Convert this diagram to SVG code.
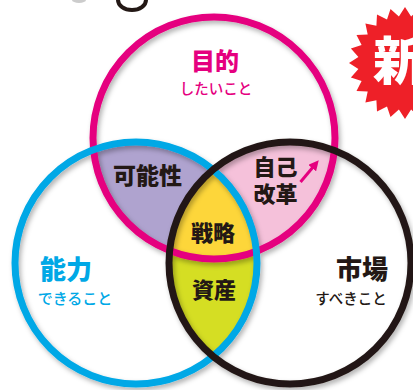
<svg xmlns="http://www.w3.org/2000/svg" width="413" height="390" viewBox="0 0 413 390">
<style>
.ring{fill:none;stroke-width:7}
.jp{font-family:"Noto Sans CJK JP","Noto Sans CJK SC",sans-serif;text-anchor:middle}
.big{font-weight:900;font-size:22px;fill:#231815}
.head{font-weight:900;font-size:25px}
.sub{font-weight:500;font-size:14.5px}
</style>
<defs>
<clipPath id="cM"><circle cx="214" cy="138" r="121"/></clipPath>
<clipPath id="cB"><circle cx="136" cy="263" r="121"/></clipPath>
<filter id="sh" x="-20%" y="-20%" width="140%" height="140%">
<feDropShadow dx="2" dy="3" stdDeviation="2.5" flood-color="#000" flood-opacity="0.3"/>
</filter>
<marker id="ah" viewBox="0 0 10 10" refX="2" refY="5" markerWidth="3.4" markerHeight="3.4" orient="auto">
<path d="M0,0 L10,5 L0,10 z" fill="#E5007F"/>
</marker>
</defs>
<rect width="413" height="390" fill="#fff"/>
<g id="fragment">
<ellipse cx="79" cy="0" rx="7" ry="3" fill="#ccc"/>
<path d="M118,0 A 14 10 0 0 0 146 0" fill="none" stroke="#231815" stroke-width="4"/>
</g>
<g id="badge">
<polygon fill="#EE2028" points="405,119 398.9,109.6 390.5,117.1 387,106.4 377,111.5 376.4,100.3 365.4,102.6 367.7,91.6 356.5,91 361.6,81 350.9,77.5 358.4,69.1 349,63 358.4,56.9 350.9,48.5 361.6,45 356.5,35 367.7,34.4 365.4,23.4 376.4,25.7 377,14.5 387,19.6 390.5,8.9 398.9,16.4 405,7 411.1,16.4 419.5,8.9 423,19.6 433,14.5 433.6,25.7 444.6,23.4 442.3,34.4 453.5,35 448.4,45 459.1,48.5 451.6,56.9 461,63 451.6,69.1 459.1,77.5 448.4,81 453.5,91 442.3,91.6 444.6,102.6 433.6,100.3 433,111.5 423,106.4 419.5,117.1 411.1,109.6"/>
<text class="jp" x="399" y="80" style="font-weight:900;font-size:52px;fill:#fff">新</text>
</g>
<g id="fills">
<circle cx="136" cy="263" r="121" fill="#AFA3CF" clip-path="url(#cM)"/>
<circle cx="290" cy="263" r="121" fill="#F5C1DA" clip-path="url(#cM)"/>
<circle cx="290" cy="263" r="121" fill="#D5DE23" clip-path="url(#cB)"/>
<g clip-path="url(#cB)"><circle cx="290" cy="263" r="121" fill="#FDD63A" clip-path="url(#cM)"/></g>
</g>
<g id="rings" filter="url(#sh)">
<circle id="purpose" class="ring" cx="214" cy="138" r="121" stroke="#E5007F"/>
<circle id="ability" class="ring" cx="136" cy="263" r="121" stroke="#00A8E6"/>
<circle id="market" class="ring" cx="290" cy="263" r="121" stroke="#231815"/>
</g>
<g id="connectors">
<line x1="300.5" y1="182" x2="313.5" y2="166.5" stroke="#E5007F" stroke-width="3" marker-end="url(#ah)"/>
</g>
<g id="n-purpose" class="jp" fill="#E5007F">
<text class="head" x="215" y="70" style="font-size:24px">目的</text>
<text class="sub" x="216" y="94">したいこと</text>
</g>
<g id="n-ability" class="jp" fill="#00A8E6">
<text class="head" x="66" y="279" style="font-size:26px">能力</text>
<text class="sub" x="75" y="304" style="font-size:15px">できること</text>
</g>
<g id="n-market" class="jp" fill="#231815">
<text class="head" x="362" y="279" style="font-size:26px">市場</text>
<text class="sub" x="351" y="304">すべきこと</text>
</g>
<g id="n-possibility"><text class="jp big" x="147.5" y="184" style="font-size:23px">可能性</text></g>
<g id="n-reform"><text class="jp big" x="275.5" y="175">自己</text><text class="jp big" x="275.5" y="202">改革</text></g>
<g id="n-strategy"><text class="jp big" x="213" y="241">戦略</text></g>
<g id="n-assets"><text class="jp big" x="214" y="298">資産</text></g>
</svg>
